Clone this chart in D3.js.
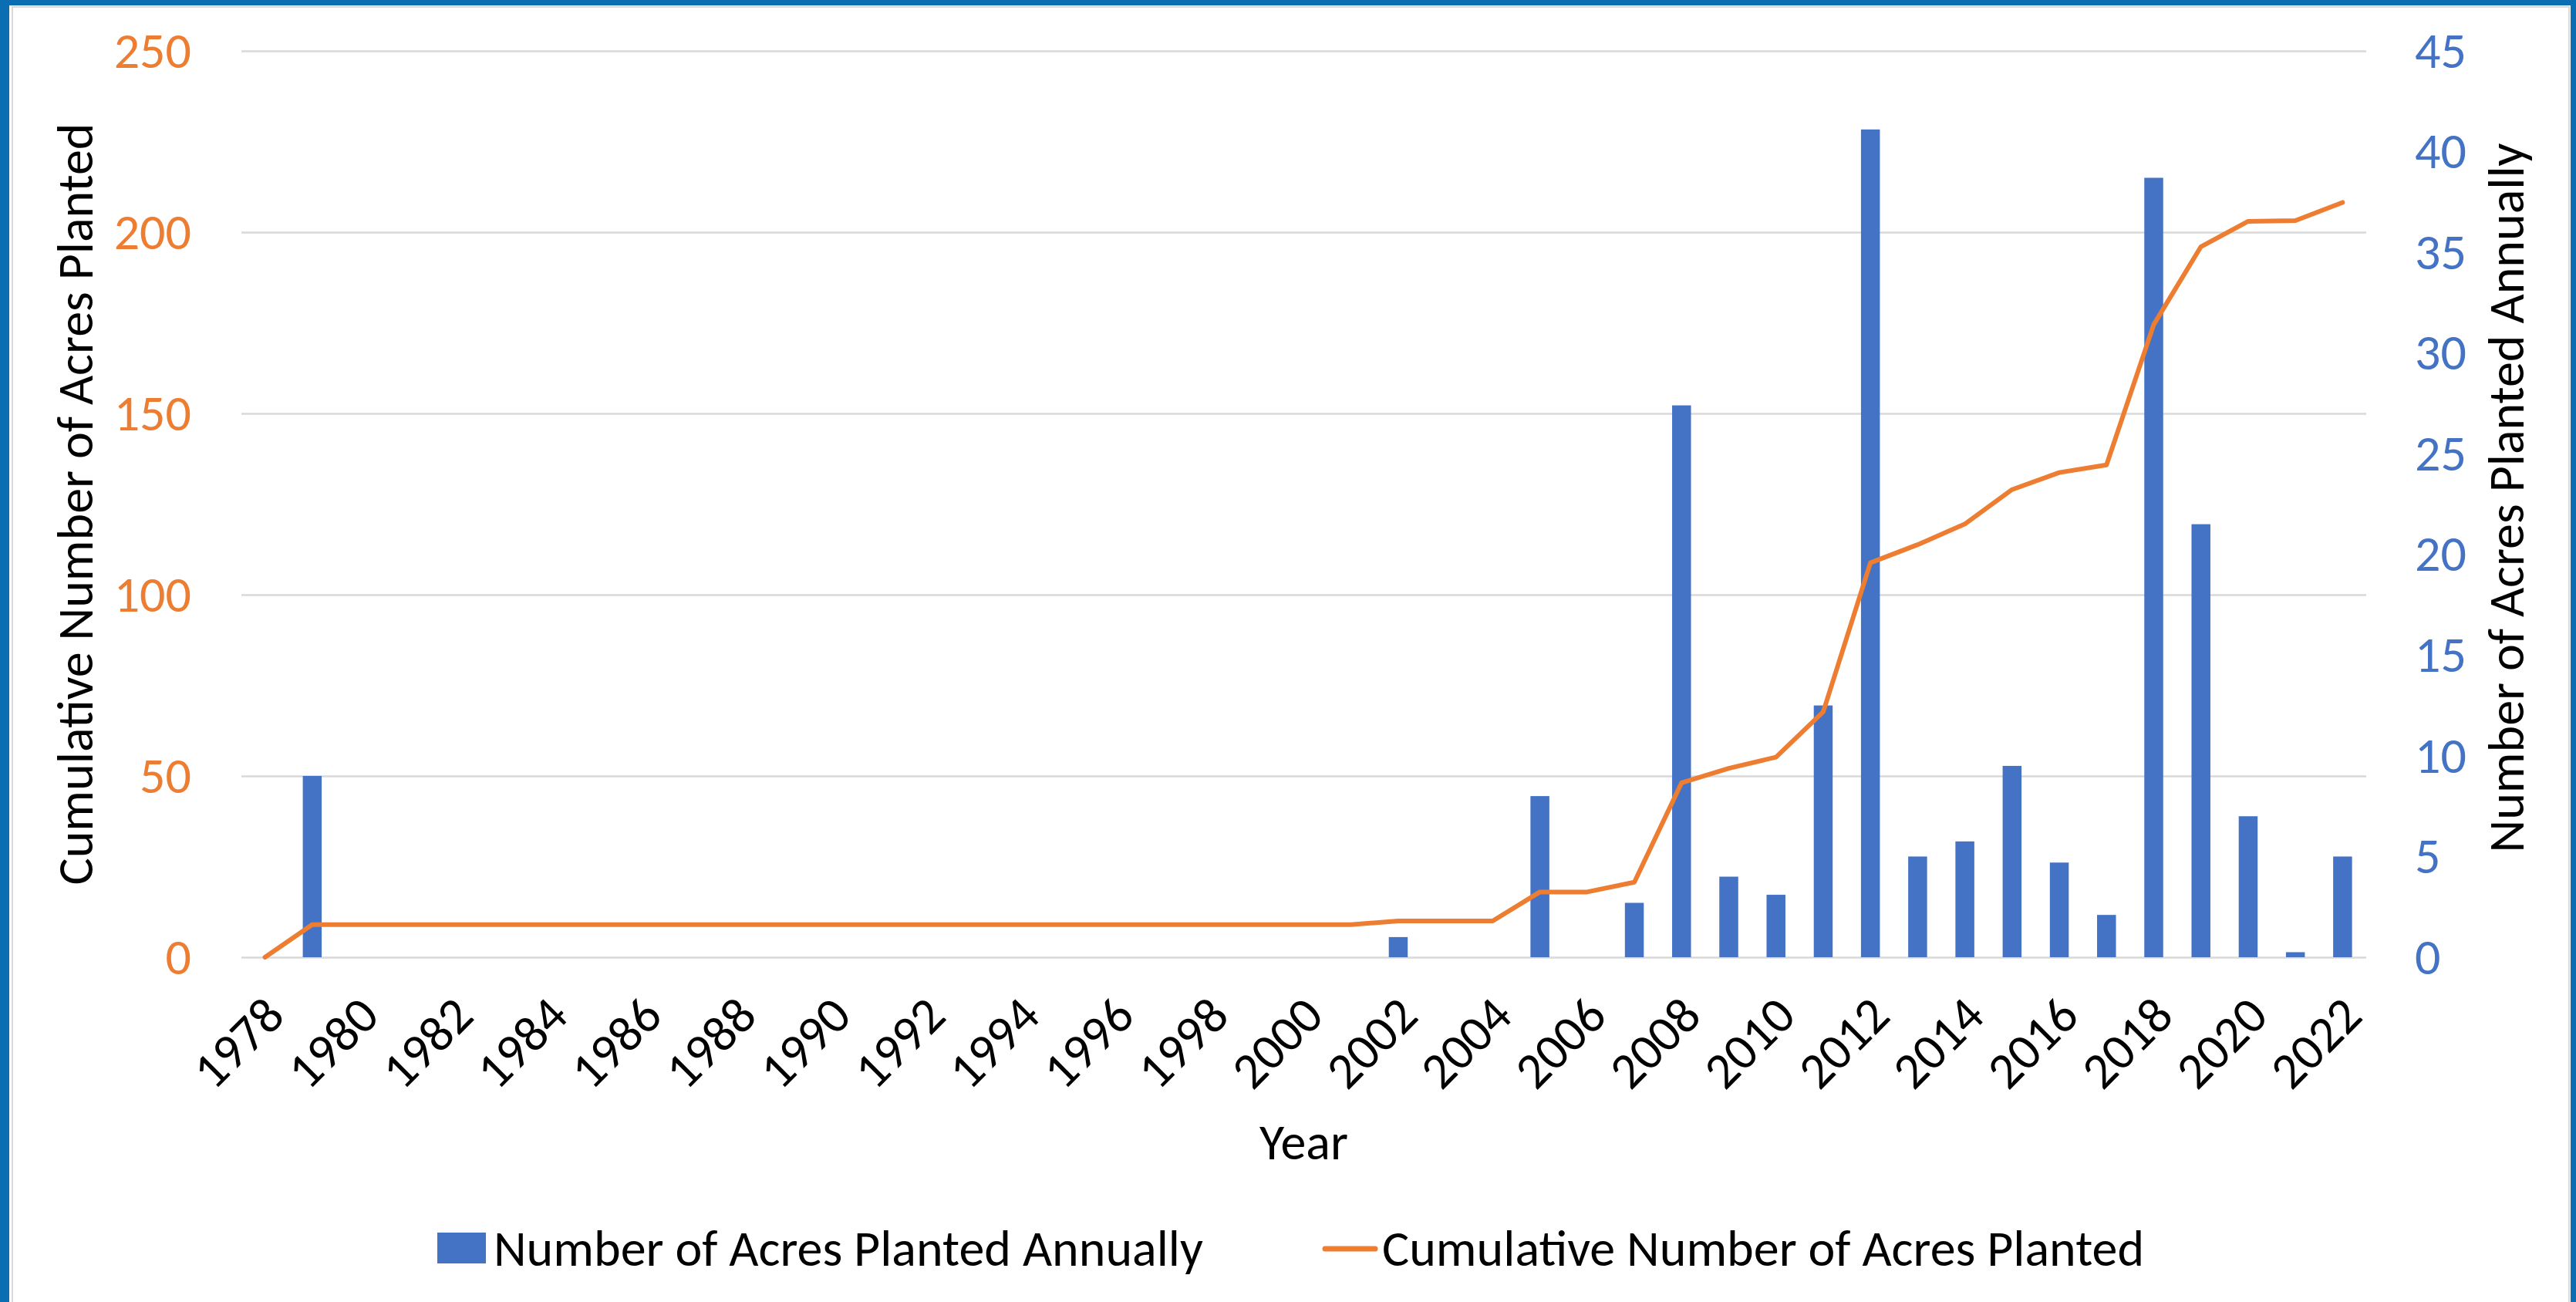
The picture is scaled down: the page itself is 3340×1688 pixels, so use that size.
<!DOCTYPE html>
<html>
<head>
<meta charset="utf-8">
<script src="https://cdn.jsdelivr.net/npm/d3@7"></script>
<style>
    html, body { margin: 0; padding: 0; background: #fff; }
    svg { display: block; }
</style>
</head>
<body>
<script>
// Acres planted per year (bars, right axis) and running total (line, left axis)

const years = [
    1978, 1979, 1980, 1981, 1982, 1983, 1984, 1985, 1986, 1987, 1988, 1989,
    1990, 1991, 1992, 1993, 1994, 1995, 1996, 1997, 1998, 1999, 2000, 2001,
    2002, 2003, 2004, 2005, 2006, 2007, 2008, 2009, 2010, 2011, 2012, 2013,
    2014, 2015, 2016, 2017, 2018, 2019, 2020, 2021, 2022
];

const annualAcres = [
    0, 9, 0, 0, 0, 0, 0, 0, 0, 0, 0, 0,
    0, 0, 0, 0, 0, 0, 0, 0, 0, 0, 0, 0,
    1, 0, 0, 8, 0, 2.7, 27.4, 4, 3.1, 12.5, 41.1, 5,
    5.75, 9.5, 4.7, 2.1, 38.7, 21.5, 7, 0.25, 5
];

const cumulativeAcres = [
    0, 9, 9, 9, 9, 9, 9, 9, 9, 9, 9, 9,
    9, 9, 9, 9, 9, 9, 9, 9, 9, 9, 9, 9,
    10, 10, 10, 18, 18, 20.7, 48.1, 52.1, 55.2, 67.7, 108.8, 113.8,
    119.5, 129, 133.7, 135.8, 174.5, 196, 203, 203.2, 208.2
];

const labelYears = [
    1978, 1980, 1982, 1984, 1986, 1988, 1990, 1992, 1994, 1996, 1998, 2000,
    2002, 2004, 2006, 2008, 2010, 2012, 2014, 2016, 2018, 2020, 2022
];
const leftTicks = [0, 50, 100, 150, 200, 250];
const rightTicks = [0, 5, 10, 15, 20, 25, 30, 35, 40, 45];

const W = 3340, H = 1688;
const plot = { left: 313, right: 3068, top: 66, bottom: 1241 };
const FONT = "Carlito, Calibri, Lato, sans-serif";
const FS = "66px";
const BLUE = "#4472C4", ORANGE = "#ED7D31", GRID = "#d9d9d9";

const svg = d3.select("body")
    .append("svg")
    .attr("width", W)
    .attr("height", H)
    .style("font-family", FONT);

// Frame
svg.append("rect").attr("width", W).attr("height", H).attr("fill", "#fff");
svg.append("rect").attr("x", 16).attr("y", 9).attr("width", 3315).attr("height", H)
    .attr("fill", "none").attr("stroke", GRID).attr("stroke-width", 2);
svg.append("rect").attr("x", 0).attr("y", 0).attr("width", W).attr("height", 7).attr("fill", "#0b6eb3");
svg.append("rect").attr("x", 0).attr("y", 0).attr("width", 12).attr("height", H).attr("fill", "#0b6eb3");
svg.append("rect").attr("x", 3333).attr("y", 0).attr("width", 7).attr("height", H).attr("fill", "#0b6eb3");

// Scales
const x = d3.scaleBand()
    .domain(years)
    .range([plot.left, plot.right])
    .paddingInner(0.6)
    .paddingOuter(0.3);

const yLeft = d3.scaleLinear().domain([0, 250]).range([plot.bottom, plot.top]);
const yRight = d3.scaleLinear().domain([0, 45]).range([plot.bottom, plot.top]);

// Gridlines
const grid = svg.append("g")
    .attr("transform", `translate(${plot.left},0)`)
    .call(d3.axisLeft(yLeft).tickValues(leftTicks).tickSize(-(plot.right - plot.left)).tickFormat(""));
grid.select(".domain").remove();
grid.selectAll("line").attr("stroke", GRID).attr("stroke-width", 2.5);

// Left axis labels
const leftAxis = svg.append("g")
    .attr("transform", `translate(${plot.left},0)`)
    .call(d3.axisLeft(yLeft).tickValues(leftTicks).tickSize(0).tickPadding(65));
leftAxis.select(".domain").remove();
leftAxis.selectAll("text")
    .attr("fill", ORANGE)
    .style("font-family", FONT)
    .style("font-size", FS);

// Right axis labels
const rightAxis = svg.append("g")
    .attr("transform", `translate(${plot.right},0)`)
    .call(d3.axisRight(yRight).tickValues(rightTicks).tickSize(0).tickPadding(63));
rightAxis.select(".domain").remove();
rightAxis.selectAll("text")
    .attr("fill", BLUE)
    .style("font-family", FONT)
    .style("font-size", FS);

// Bars
svg.append("g")
    .selectAll("rect")
    .data(years.map((yr, i) => ({ yr, v: annualAcres[i] })).filter(d => d.v > 0))
    .join("rect")
    .attr("x", d => x(d.yr))
    .attr("y", d => yRight(d.v))
    .attr("width", x.bandwidth())
    .attr("height", d => yRight(0) - yRight(d.v))
    .attr("fill", BLUE);

// Cumulative line
const line = d3.line()
    .x((d, i) => x(years[i]) + x.bandwidth() / 2)
    .y(d => yLeft(d));

svg.append("path")
    .datum(cumulativeAcres)
    .attr("d", line)
    .attr("fill", "none")
    .attr("stroke", ORANGE)
    .attr("stroke-width", 6)
    .attr("stroke-linejoin", "round")
    .attr("stroke-linecap", "round");

// X axis labels
const xAxis = svg.append("g")
    .attr("transform", `translate(0,${plot.bottom})`)
    .call(d3.axisBottom(x).tickValues(labelYears).tickSize(0));
xAxis.select(".domain").remove();
xAxis.selectAll("text")
    .attr("x", 0)
    .attr("y", 0)
    .attr("dy", "0.35em")
    .attr("text-anchor", "end")
    .attr("transform", "translate(12,63) rotate(-45)")
    .attr("fill", "#000")
    .style("font-family", FONT)
    .style("font-size", FS);

// Axis titles
svg.append("text")
    .attr("x", (plot.left + plot.right) / 2)
    .attr("y", 1503)
    .attr("text-anchor", "middle")
    .style("font-size", FS)
    .text("Year");

svg.append("text")
    .attr("transform", `translate(120,${(plot.top + plot.bottom) / 2}) rotate(-90)`)
    .attr("text-anchor", "middle")
    .style("font-size", FS)
    .text("Cumulative Number of Acres Planted");

svg.append("text")
    .attr("transform", `translate(3272,${(plot.top + plot.bottom) / 2 - 8}) rotate(-90)`)
    .attr("text-anchor", "middle")
    .style("font-size", FS)
    .text("Number of Acres Planted Annually");

// Legend
const legend = svg.append("g");
legend.append("rect")
    .attr("x", 567).attr("y", 1598)
    .attr("width", 63).attr("height", 40)
    .attr("fill", BLUE);
legend.append("text")
    .attr("x", 640).attr("y", 1641)
    .style("font-size", FS)
    .text("Number of Acres Planted Annually");
legend.append("line")
    .attr("x1", 1718).attr("x2", 1783)
    .attr("y1", 1619).attr("y2", 1619)
    .attr("stroke", ORANGE)
    .attr("stroke-width", 7)
    .attr("stroke-linecap", "round");
legend.append("text")
    .attr("x", 1792).attr("y", 1641)
    .style("font-size", FS)
    .text("Cumulative Number of Acres Planted");
</script>
</body>
</html>
